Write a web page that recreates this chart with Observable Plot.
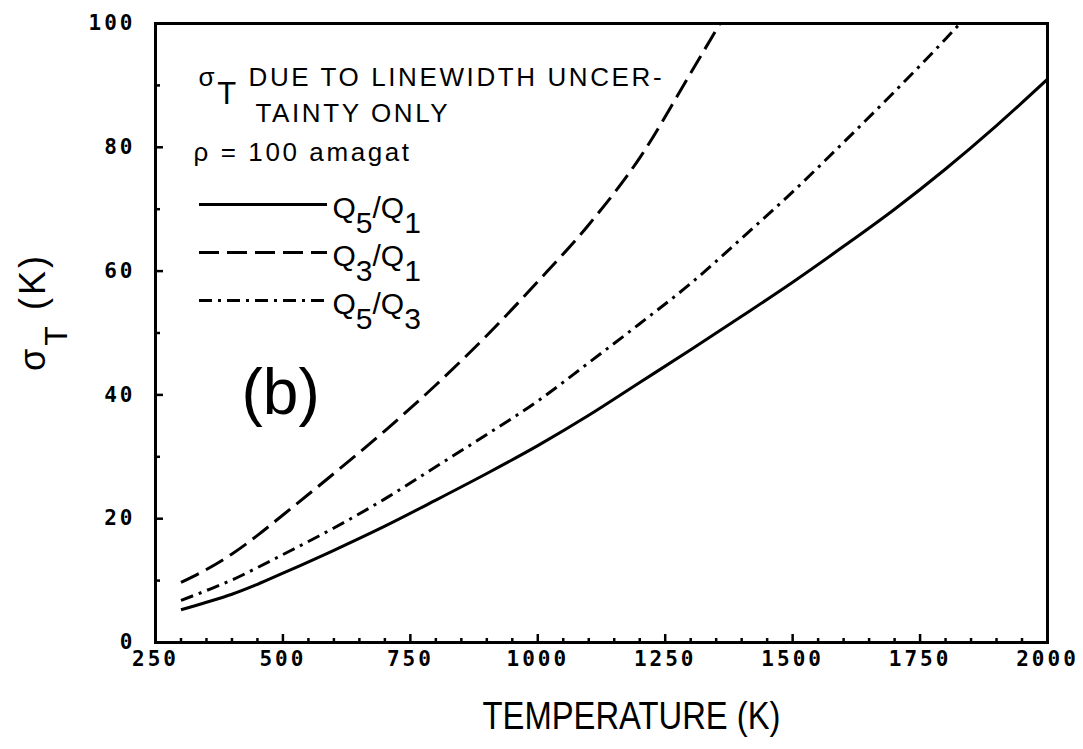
<!DOCTYPE html>
<html>
<head>
<meta charset="utf-8">
<script src="https://cdn.jsdelivr.net/npm/d3@7"></script>
<script src="https://cdn.jsdelivr.net/npm/@observablehq/plot@0.6"></script>
<style>
  html, body { margin: 0; padding: 0; background: #fff; }
</style>
</head>
<body>
<div id="chart"></div>
<script>
// ---- data ----
const temperatureK = [300, 350, 400, 450, 500, 600, 700, 800, 900, 1000, 1100, 1200, 1300, 1400, 1500, 1600, 1700, 1800, 1900, 2000];
const sigmaQ5Q1 = [5.3, 6.5, 7.8, 9.4, 11.2, 14.9, 18.8, 23.0, 27.3, 31.8, 36.7, 42.0, 47.3, 52.7, 58.2, 64.0, 70.0, 76.5, 83.5, 91.0];
const sigmaQ3Q1 = [9.7, 11.8, 14.3, 17.3, 20.6, 27.3, 34.2, 41.6, 49.6, 58.3, 67.5, 78.3, 92.0, 106.0, null, null, null, null, null, null];
const sigmaQ5Q3 = [6.8, 8.4, 10.1, 12.1, 14.2, 18.5, 23.2, 28.4, 33.6, 39.0, 45.2, 51.5, 58.0, 65.3, 72.8, 80.8, 89.0, 97.5, 106.5, null];

const seriesLabels = ["Q_5/Q_1", "Q_3/Q_1", "Q_5/Q_3"];
const noteLines = ["σ_T DUE TO LINEWIDTH UNCER-", "TAINTY ONLY", "ρ = 100 amagat"];
const panelLabel = "(b)";
const xTitle = "TEMPERATURE (K)";
const yTitle = "σ_T (K)";
const xMajorTicks = [250, 500, 750, 1000, 1250, 1500, 1750, 2000];
const yMajorTicks = [0, 20, 40, 60, 80, 100];

// ---- layout / style ----
const W = 1083, H = 749;
const mL = 155, mR = 36, mT = 23, mB = 107;
const frameW = W - mL - mR, frameH = H - mT - mB;
const dashes = [null, "20,8", "13,6,3,6"];

const xMinorTicks = d3.range(250, 2001, 50).filter(t => !xMajorTicks.includes(t));
const yMinorTicks = d3.range(0, 101, 10).filter(v => !yMajorTicks.includes(v));

const seriesValues = [sigmaQ5Q1, sigmaQ3Q1, sigmaQ5Q3];
const rows = (vals) => temperatureK.map((t, i) => ({t, v: vals[i]})).filter(d => d.v != null);

const marks = [];
seriesValues.forEach((vals, i) => {
  marks.push(Plot.line(rows(vals), {
    x: "t", y: "v", curve: "monotone-x", clip: true,
    stroke: "black", strokeWidth: 3, strokeDasharray: dashes[i], strokeLinecap: "butt"
  }));
});

// ticks pointing inward
marks.push(Plot.tickX(xMajorTicks, {x: d => d, insetTop: frameH - 8, strokeWidth: 2.5}));
marks.push(Plot.tickX(xMinorTicks, {x: d => d, insetTop: frameH - 4, strokeWidth: 2.5}));
marks.push(Plot.tickY(yMajorTicks, {y: d => d, insetRight: frameW - 8, strokeWidth: 2.5}));
marks.push(Plot.tickY(yMinorTicks, {y: d => d, insetRight: frameW - 5, strokeWidth: 2.5}));

marks.push(Plot.frame({stroke: "black", strokeWidth: 3}));

const tickFont = {fontFamily: "DejaVu Sans Mono", fontWeight: "bold", fontSize: 21, fill: "black"};
marks.push(Plot.axisX({ticks: xMajorTicks, tickSize: 0, tickPadding: 9, tickFormat: d => String(d), label: null, ...tickFont}));
marks.push(Plot.axisY({ticks: yMajorTicks, tickSize: 0, tickPadding: 20, tickFormat: d => String(d), label: null, ...tickFont}));

// annotation block
const notePos = [{dx: 43, dy: 62}, {dx: 100, dy: 98}, {dx: 38, dy: 137}];
noteLines.forEach((s, i) => {
  marks.push(Plot.text([s], {
    text: d => d, frameAnchor: "top-left", dx: notePos[i].dx, dy: notePos[i].dy,
    textAnchor: "start", lineAnchor: "bottom", fontSize: 26
  }));
});

// legend keys
seriesLabels.forEach((s, i) => {
  marks.push(Plot.ruleY([100], {
    y: d => d, dy: 181 + i * 48, insetLeft: 44, insetRight: frameW - 172,
    stroke: "black", strokeWidth: 3, strokeDasharray: dashes[i]
  }));
  marks.push(Plot.text([s], {
    text: d => d, frameAnchor: "top-left", dx: 177, dy: 194 + i * 48,
    textAnchor: "start", lineAnchor: "bottom", fontSize: 30
  }));
});

marks.push(Plot.text([panelLabel], {
  text: d => d, frameAnchor: "top-left", dx: 86, dy: 390,
  textAnchor: "start", lineAnchor: "bottom", fontSize: 64
}));

// axis titles
marks.push(Plot.text([xTitle], {
  text: d => d, frameAnchor: "bottom", dx: 30, dy: 86,
  textAnchor: "middle", lineAnchor: "bottom", fontSize: 38
}));
marks.push(Plot.text([yTitle], {
  text: d => d, frameAnchor: "left", dx: -111, dy: -21, rotate: -90,
  textAnchor: "middle", lineAnchor: "bottom", fontSize: 36
}));

const svg = Plot.plot({
  width: W, height: H,
  marginLeft: mL, marginRight: mR, marginTop: mT, marginBottom: mB,
  x: {domain: [250, 2000]},
  y: {domain: [0, 100]},
  style: {background: "white", color: "black", fontFamily: "'Liberation Sans', Arial, sans-serif"},
  marks
});

document.getElementById("chart").appendChild(svg);

// ---- post-processing: subscripts, spacing ----
const SVGNS = "http://www.w3.org/2000/svg";
function subscriptify(el, shiftPx, subSize) {
  const s = el.textContent;
  if (!s.includes("_")) return;
  const segs = [];
  let buf = "";
  for (let i = 0; i < s.length; i++) {
    if (s[i] === "_" && i + 1 < s.length) {
      if (buf) segs.push({text: buf, sub: false});
      buf = "";
      segs.push({text: s[i + 1], sub: true});
      i++;
    } else buf += s[i];
  }
  if (buf) segs.push({text: buf, sub: false});
  el.textContent = "";
  let prevSub = false;
  for (const seg of segs) {
    const t = document.createElementNS(SVGNS, "tspan");
    t.textContent = seg.text;
    if (seg.sub) {
      t.setAttribute("dy", shiftPx);
      if (subSize) t.setAttribute("font-size", subSize);
    } else if (prevSub) {
      t.setAttribute("dy", -shiftPx);
    }
    prevSub = seg.sub;
    el.appendChild(t);
  }
}

d3.select(svg).selectAll("text").each(function() {
  const s = this.textContent;
  const sel = d3.select(this);
  if (s === noteLines[0]) { subscriptify(this, 18, 31); sel.attr("letter-spacing", 2.6); }
  else if (noteLines.includes(s)) sel.attr("letter-spacing", 2.6);
  else if (seriesLabels.includes(s)) subscriptify(this, 15, null);
  else if (s === yTitle) { subscriptify(this, 22, 32); sel.attr("letter-spacing", 3); }
  else if (s === xTitle) sel.attr("textLength", 298).attr("lengthAdjust", "spacingAndGlyphs");
  else if (/^\d+$/.test(s)) sel.attr("letter-spacing", 3);
});
</script>
</body>
</html>
